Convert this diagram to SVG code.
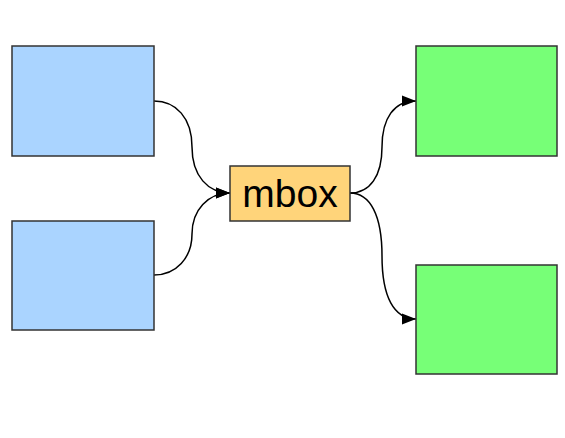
<svg xmlns="http://www.w3.org/2000/svg" width="565" height="438" viewBox="0 0 565 438">
<style>
.src{fill:#aad4ff;stroke:#333;stroke-width:1.5}
.dst{fill:#77ff77;stroke:#333;stroke-width:1.5}
.mid{fill:#ffd47a;stroke:#333;stroke-width:1.5}
.edge{fill:none;stroke:#000;stroke-width:1.5;marker-end:url(#ah)}
text{font-family:"Liberation Sans",Arial,sans-serif;font-size:39px;fill:#000}
</style>
<defs>
<marker id="ah" markerUnits="userSpaceOnUse" markerWidth="16" markerHeight="12" refX="14" refY="6" orient="auto">
<path d="M0,0.5 L14,6 L0,11.5 Z" fill="#000"/>
</marker>
</defs>
<rect width="565" height="438" fill="#fff"/>
<g id="connectors">
<path class="edge" d="M154,101 C176,101 192,118 192,147 C192,176 208,193 230,193"/>
<path class="edge" d="M154,275 C176,275 192,258 192,234 C192,210 208,193 230,193"/>
<path class="edge" d="M350,193 C370,193 382,176 382,147 C382,118 394,101 416,101"/>
<path class="edge" d="M350,193 C370,193 382,215 382,256 C382,297 394,319 416,319"/>
</g>
<g id="src1"><rect class="src" x="12" y="46" width="142" height="110"/></g>
<g id="src2"><rect class="src" x="12" y="221" width="142" height="109"/></g>
<g id="mbox"><rect class="mid" x="230" y="166" width="120" height="55"/><text x="290" y="207" text-anchor="middle">mbox</text></g>
<g id="dst1"><rect class="dst" x="416" y="46" width="141" height="110"/></g>
<g id="dst2"><rect class="dst" x="416" y="265" width="141" height="109"/></g>
</svg>
